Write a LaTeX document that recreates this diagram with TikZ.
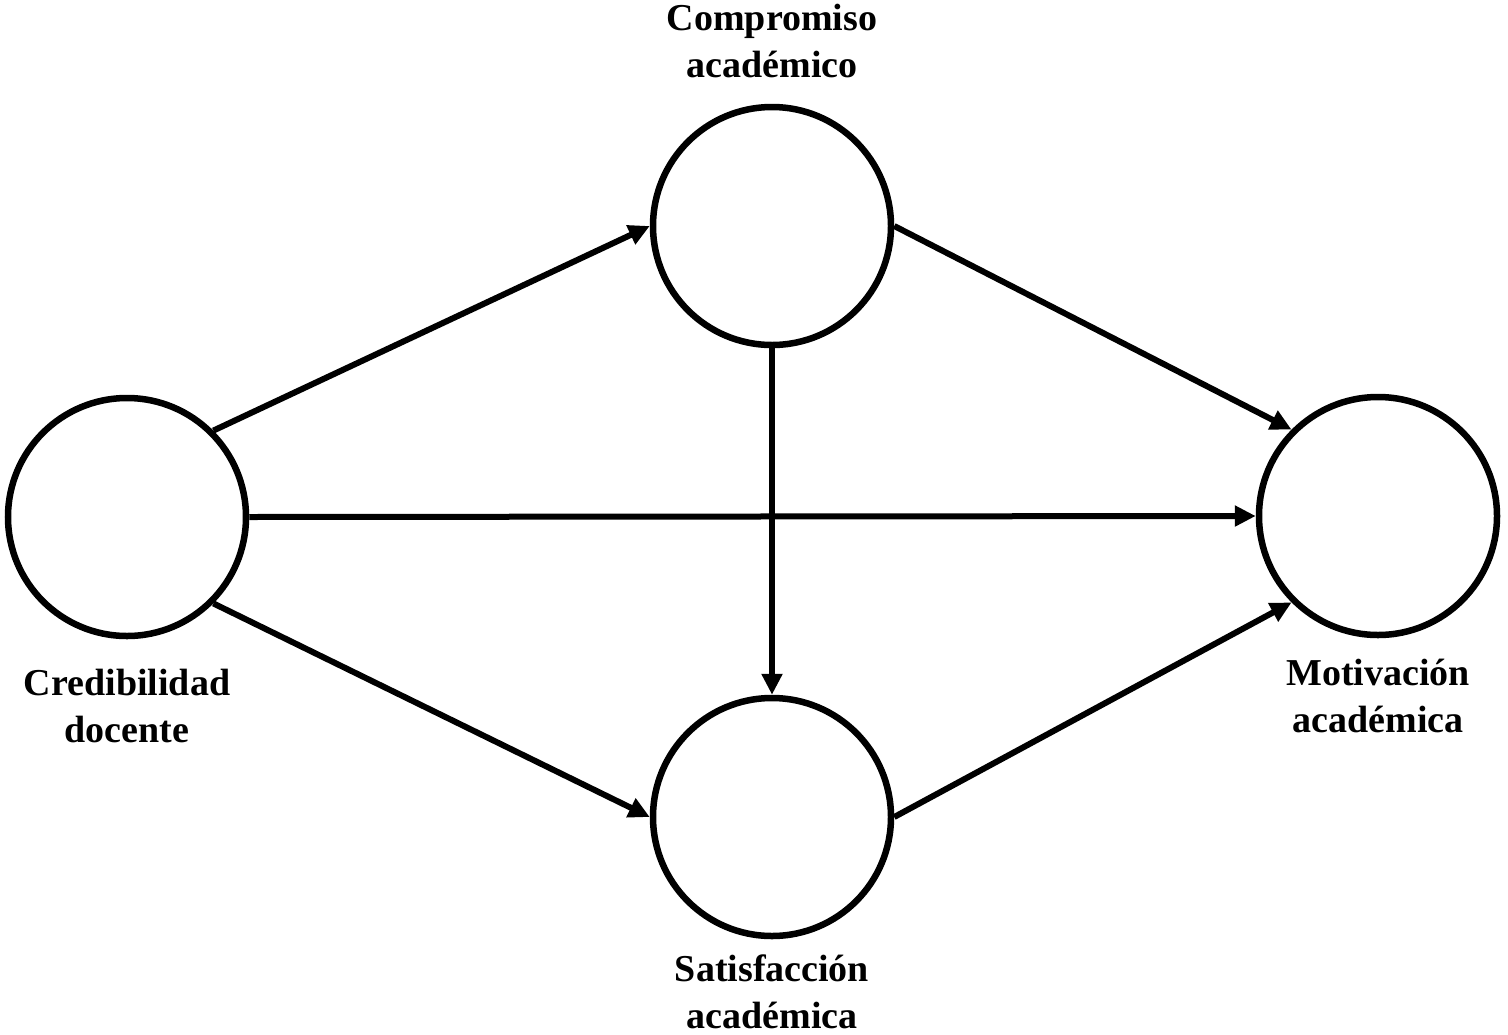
\documentclass[tikz,border=0pt]{standalone}
\usepackage{fontspec}
\setmainfont{Liberation Serif}
\usetikzlibrary{arrows.meta}
\begin{document}
\begin{tikzpicture}[x=1pt,y=-1pt,
  var/.style={circle,draw=black,line width=6.5pt,minimum size=238pt,inner sep=0pt},
  lbl/.style={align=center,font=\fontsize{38}{47}\selectfont\bfseries,inner sep=0pt,anchor=base},
  conn/.style={line width=6pt,-{Triangle[length=21pt,width=20pt]}}]
\useasboundingbox[fill=white] (0,0) rectangle (1508,1034);
\node[var] (A) at (127,517) {};
\node[var] (B) at (772,226) {};
\node[var] (S) at (772,817) {};
\node[var] (M) at (1378,516) {};
\node[lbl] (lA) at (127,742) {Credibilidad\\docente};
\node[lbl] (lB) at (772,77) {Compromiso\\académico};
\node[lbl] (lS) at (772,1028) {Satisfacción\\académica};
\node[lbl] (lM) at (1378,732) {Motivación\\académica};
\draw[conn] (A.45) -- (B.west);
\draw[conn] (B.east) -- (M.135);
\draw[conn] (A.east) -- (M.west);
\draw[conn] (B.south) -- (S.north);
\draw[conn] (A.-45) -- (S.west);
\draw[conn] (S.east) -- (M.-135);
\end{tikzpicture}
\end{document}
